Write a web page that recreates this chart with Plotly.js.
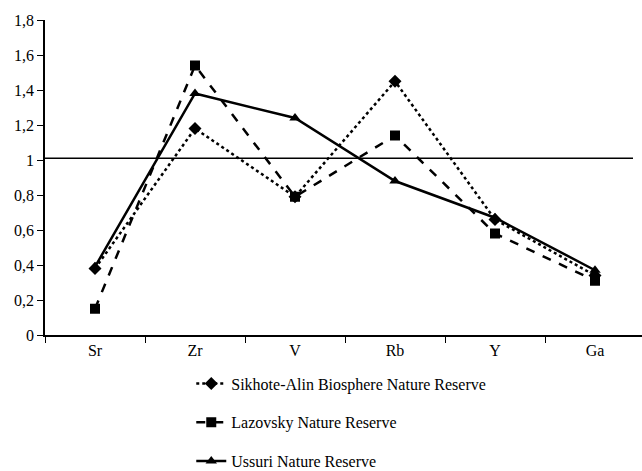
<!DOCTYPE html>
<html><head><meta charset="utf-8">
<script src="https://cdn.plot.ly/plotly-3.0.1.min.js"></script>
<style>body{margin:0;background:#fff}#c{width:642px;height:471px}</style>
</head><body><div id="c"></div>
<script>
const categories = ["Sr","Zr","V","Rb","Y","Ga"];
const sikhote = [0.38,1.18,0.79,1.45,0.66,0.34];
const lazovsky = [0.15,1.54,0.79,1.14,0.58,0.31];
const ussuri = [0.39,1.38,1.24,0.88,0.67,0.37];
const seriesNames = ["Sikhote-Alin Biosphere Nature Reserve","Lazovsky Nature Reserve","Ussuri Nature Reserve"];
const refLevel = 1.01;
const yTicks = [0,0.2,0.4,0.6,0.8,1,1.2,1.4,1.6,1.8];
const yTickText = ["0","0,2","0,4","0,6","0,8","1","1,2","1,4","1,6","1,8"];

const font = {family:"'Liberation Serif', 'Times New Roman', 'DejaVu Serif', serif", size:16, color:"#000"};
const traces = [
  {x:categories, y:sikhote, name:seriesNames[0], mode:"lines+markers", legendgroup:"a",
   line:{color:"#000", width:2.5, dash:"dot"}, marker:{symbol:"diamond", size:10, color:"#000"}},
  {x:categories, y:lazovsky, name:seriesNames[1], mode:"lines+markers", legendgroup:"b",
   line:{color:"#000", width:2.5, dash:"dash"}, marker:{symbol:"square", size:10, color:"#000"}},
  {x:categories, y:ussuri, name:seriesNames[2], mode:"lines+markers", legendgroup:"c",
   line:{color:"#000", width:2.5}, marker:{symbol:"triangle-up", size:10, color:"#000"}}
];
const layout = {
  width:642, height:471, paper_bgcolor:"#fff", plot_bgcolor:"#fff",
  margin:{l:45, r:0, t:20, b:136, autoexpand:false},
  font:font, showlegend:true,
  xaxis:{type:"category", range:[-0.5,5.47], showline:true, linecolor:"#000", linewidth:1.5,
         ticks:"outside", tickson:"boundaries", ticklen:6, tickcolor:"#000", showgrid:false, zeroline:false,
         tickfont:font},
  yaxis:{range:[0,1.8], tickvals:yTicks, ticktext:yTickText, showline:true, linecolor:"#000", linewidth:1.5,
         ticks:"outside", ticklen:6, tickcolor:"#000", showgrid:false, zeroline:false, tickfont:font},
  shapes:[{type:"line", xref:"x", x0:-0.5, x1:5.38, yref:"y", y0:refLevel, y1:refLevel,
           line:{color:"#000", width:1.5}}],
  legend:{x:0.245, xanchor:"left", y:-0.1, yanchor:"top", orientation:"v", tracegroupgap:15,
          font:font, bgcolor:"rgba(0,0,0,0)"}
};
Plotly.newPlot("c", traces, layout, {displayModeBar:false});
</script></body></html>
